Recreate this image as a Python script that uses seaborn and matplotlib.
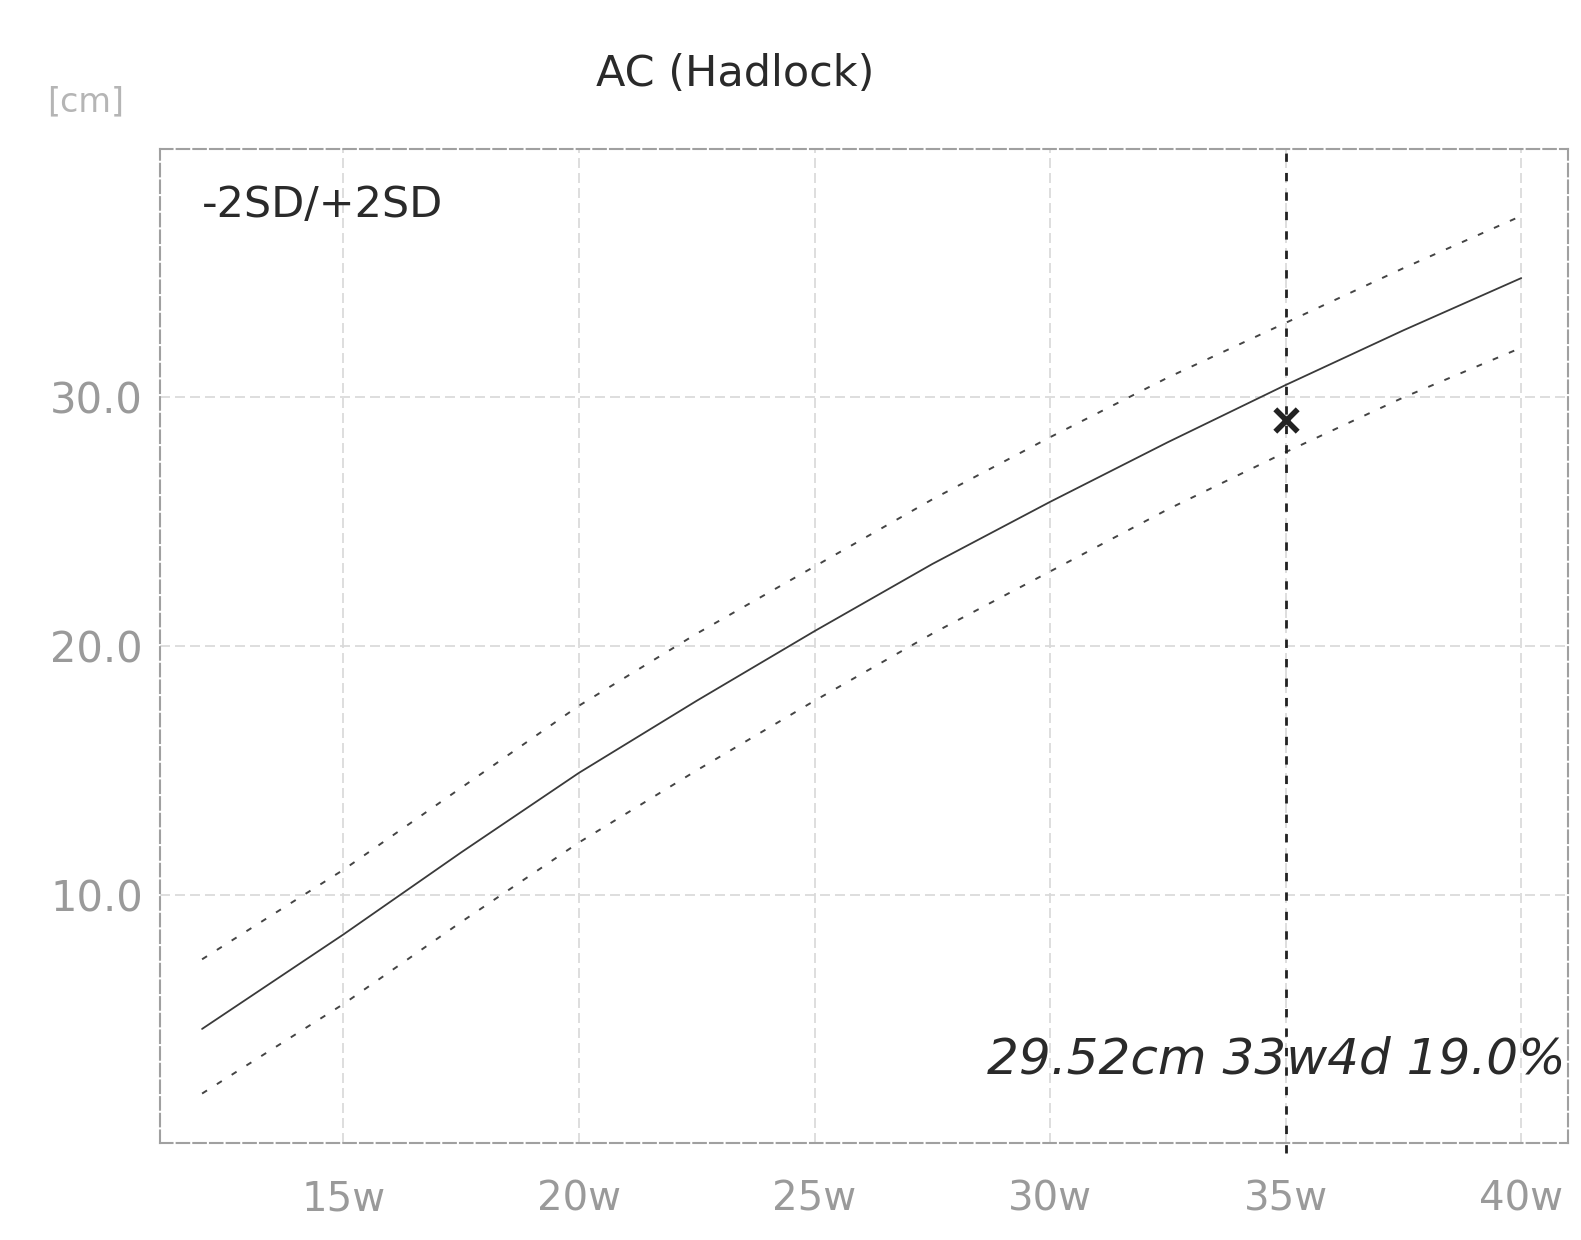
import pandas as pd
import seaborn as sns
import matplotlib.pyplot as plt

# Hadlock AC reference curves (weeks -> cm)
weeks = [12, 15, 17.5, 20, 22.5, 25, 27.5, 30, 32.5, 35, 37.5, 40]
mean_cm = [4.6, 8.4, 11.7, 14.9, 17.8, 20.6, 23.3, 25.8, 28.2, 30.5, 32.7, 34.8]
upper_cm = [7.4, 11.0, 14.3, 17.6, 20.5, 23.2, 25.9, 28.4, 30.8, 33.0, 35.2, 37.3]
lower_cm = [2.0, 5.6, 8.9, 12.1, 15.0, 17.8, 20.5, 23.0, 25.5, 27.8, 30.0, 32.0]

exam_week = 35.0
exam_value = 29.1
result_text = '29.52cm 33w4d 19.0%'

x_ticks = [15, 20, 25, 30, 35, 40]
x_labels = ['15w', '20w', '25w', '30w', '35w', '40w']
y_ticks = [10, 20, 30]
y_labels = ['10.0', '20.0', '30.0']

sns.set_style('white')
plt.rcParams['font.family'] = ['DejaVu Sans']

df = pd.DataFrame({'week': weeks, 'mean': mean_cm, 'upper': upper_cm, 'lower': lower_cm})

fig = plt.figure(figsize=(15.81, 12.40), dpi=100)
ax = fig.add_axes([0.101, 0.078, 0.891, 0.802])

sns.lineplot(data=df, x='week', y='mean', ax=ax, color='#3a3a3a', linewidth=1.3)
sns.lineplot(data=df, x='week', y='upper', ax=ax, color='#444444', linewidth=1.4, linestyle=(0, (3, 6)))
sns.lineplot(data=df, x='week', y='lower', ax=ax, color='#444444', linewidth=1.4, linestyle=(0, (3, 6)))

ax.axvline(exam_week, ymin=-0.01, color='#222222', linewidth=2, linestyle=(0, (3, 4)), clip_on=False)
ax.scatter([exam_week], [exam_value], marker='x', s=260, color='#222222', linewidths=4, zorder=5)

ax.set_xlim(11.1, 41.0)
ax.set_ylim(0, 40)
ax.set_xticks(x_ticks)
ax.set_xticklabels(x_labels)
ax.set_yticks(y_ticks)
ax.set_yticklabels(y_labels)
ax.tick_params(axis='x', labelsize=29, labelcolor='#9a9a9a', length=0, pad=26)
ax.tick_params(axis='y', labelsize=30, labelcolor='#9a9a9a', length=0, pad=12)
ax.set_xlabel('')
ax.set_ylabel('')

ax.grid(True, color='#d8d8d8', linewidth=1.2, linestyle=(0, (6, 3)))
for s in ax.spines.values():
    s.set_color('#a0a0a0')
    s.set_linewidth(1.5)
    s.set_linestyle((0, (6, 2)))

fig.text(0.465, 0.94, 'AC (Hadlock)', ha='center', va='center', fontsize=31, color='#2a2a2a')
fig.text(0.03, 0.918, '[cm]', ha='left', va='center', fontsize=24, color='#b5b5b5')
ax.text(0.03, 0.965, '-2SD/+2SD', transform=ax.transAxes, ha='left', va='top', fontsize=31, color='#2a2a2a')
ax.text(0.998, 0.06, result_text, transform=ax.transAxes, ha='right', va='bottom',
        fontsize=36, style='italic', color='#2a2a2a')

fig.savefig('out.png', dpi=100)
